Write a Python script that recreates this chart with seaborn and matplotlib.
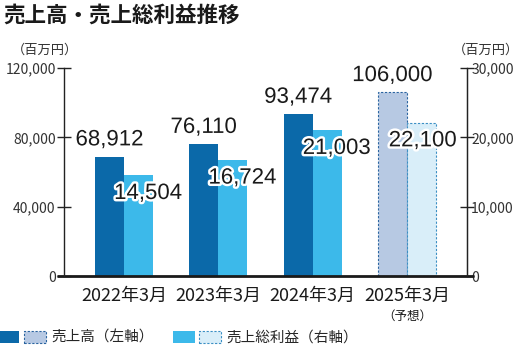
import pandas as pd
import matplotlib
matplotlib.use("Agg")
import matplotlib.pyplot as plt
import matplotlib.patheffects as pe
from matplotlib.patches import Patch
from matplotlib.legend_handler import HandlerTuple
import seaborn as sns

# data (百万円)
years = ["2022年3月", "2023年3月", "2024年3月", "2025年3月"]
sales = [68912, 76110, 93474, 106000]          # 売上高 (左軸)
gross_profit = [14504, 16724, 21003, 22100]    # 売上総利益 (右軸)
forecast = [False, False, False, True]
left_ticks = [0, 40000, 80000, 120000]
right_ticks = [0, 10000, 20000, 30000]

# right axis runs 0-30,000 against 0-120,000 on the left
RATIO = 120000 / 30000

DARK = "#0b69a9"
LIGHT = "#3cb9ea"
DARK_FC = "#b7c9e3"
LIGHT_FC = "#d9eef9"
DARK_EDGE = "#2a64a0"
LIGHT_EDGE = "#3b8fc4"

sns.set_style("white")
plt.rcParams["font.family"] = ["Noto Sans CJK JP", "DejaVu Sans"]
NUM_FONT = ["Liberation Sans", "DejaVu Sans"]

df = pd.DataFrame({
    "year": years * 2,
    "series": ["売上高"] * len(years) + ["売上総利益"] * len(years),
    "value": sales + [g * RATIO for g in gross_profit],
})

fig = plt.figure(figsize=(5.22, 3.51), dpi=100)
ax = fig.add_axes([64 / 522, 1 - 276 / 351, (467 - 64) / 522, 208 / 351])

sns.barplot(data=df, x="year", y="value", hue="series", order=years,
            palette=[DARK, LIGHT], width=0.614, dodge=True, legend=False,
            linewidth=0, saturation=1, ax=ax)

ax.set_xlim(-0.636, 3.637)
ax.set_ylim(0, 120000)
ax.set_xlabel("")
ax.set_ylabel("")

# forecast bars: pale fill with dashed outline
for cont, fc, ec in zip(ax.containers, [DARK_FC, LIGHT_FC], [DARK_EDGE, LIGHT_EDGE]):
    for bar, fut in zip(cont, forecast):
        if fut:
            bar.set_facecolor(fc)
            bar.set_edgecolor(ec)
            bar.set_linestyle((0, (2, 1.5)))
            bar.set_linewidth(0.8)

stroke = [pe.withStroke(linewidth=3.5, foreground="white")]
for bar, v in zip(ax.containers[0], sales):
    ax.annotate(f"{v:,}", (bar.get_x() + bar.get_width() / 2, bar.get_height()),
                xytext=(0, 12), textcoords="offset points", ha="center", va="center",
                fontsize=16, family=NUM_FONT, color="#1a1a1a", path_effects=stroke)
for bar, v, fut in zip(ax.containers[1], gross_profit, forecast):
    ax.annotate(f"{v:,}", (bar.get_x() + bar.get_width() / 2, bar.get_height()),
                xytext=(1 if fut else 7, -13), textcoords="offset points",
                ha="center", va="center", fontsize=16, family=NUM_FONT,
                color="#1a1a1a", path_effects=stroke)

# axes / ticks
for s in ["top", "bottom"]:
    ax.spines[s].set_visible(False)
for s in ["left", "right"]:
    ax.spines[s].set_color("#222222")
    ax.spines[s].set_linewidth(1.0)
ax.spines["right"].set_visible(True)

ax.set_yticks(left_ticks)
ax.set_yticklabels([f"{t:,}" for t in left_ticks])
ax.tick_params(axis="y", direction="inout", length=10, width=1.0, color="#222222",
               labelsize=10, labelcolor="#333333", pad=1, left=True)
ax.tick_params(axis="x", length=0, pad=8, labelsize=13, labelcolor="#1a1a1a")

sec = ax.secondary_yaxis("right", functions=(lambda y: y / RATIO, lambda y: y * RATIO))
sec.set_yticks(right_ticks)
sec.set_yticklabels([f"{t:,}" for t in right_ticks])
sec.spines["right"].set_color("#222222")
sec.tick_params(direction="inout", length=10, width=1.0, color="#222222",
                labelsize=10, labelcolor="#333333", pad=-2)

# thick baseline running past both spines
ax.plot([-0.018, 1.018], [0, 0], transform=ax.transAxes, color="#1a1a1a",
        lw=2, clip_on=False, solid_capstyle="butt")

ax.text(3, -0.195, "（予想）", transform=ax.get_xaxis_transform(), ha="center",
        va="center", fontsize=9, color="#1a1a1a")

fig.text(45 / 522, 1 - 50 / 351, "（百万円）", ha="center", va="center",
         fontsize=9.5, color="#333333")
fig.text(486 / 522, 1 - 50 / 351, "（百万円）", ha="center", va="center",
         fontsize=9.5, color="#333333")

fig.text(3 / 522, 1 - 15 / 351, "売上高・売上総利益推移", ha="left", va="center",
         fontsize=15.5, fontweight="bold", color="#1a1a1a")

# legend: solid + dashed swatch for each series
def swatches(solid, fc, ec):
    return (Patch(facecolor=solid, edgecolor="none"),
            Patch(facecolor=fc, edgecolor=ec, linestyle=(0, (2, 1.5)), linewidth=0.8))

handles = [swatches(DARK, DARK_FC, DARK_EDGE), swatches(LIGHT, LIGHT_FC, LIGHT_EDGE)]
fig.legend(handles, ["売上高（左軸）", "売上総利益（右軸）"],
           handler_map={tuple: HandlerTuple(ndivide=None, pad=0.3)},
           loc="center left", bbox_to_anchor=(-0.005, 1 - 338 / 351), ncol=2,
           frameon=False, fontsize=10.5, handlelength=3.3, handleheight=0.9,
           handletextpad=0.4, columnspacing=1.3, borderaxespad=0, borderpad=0)

fig.savefig("out.png", dpi=100)
